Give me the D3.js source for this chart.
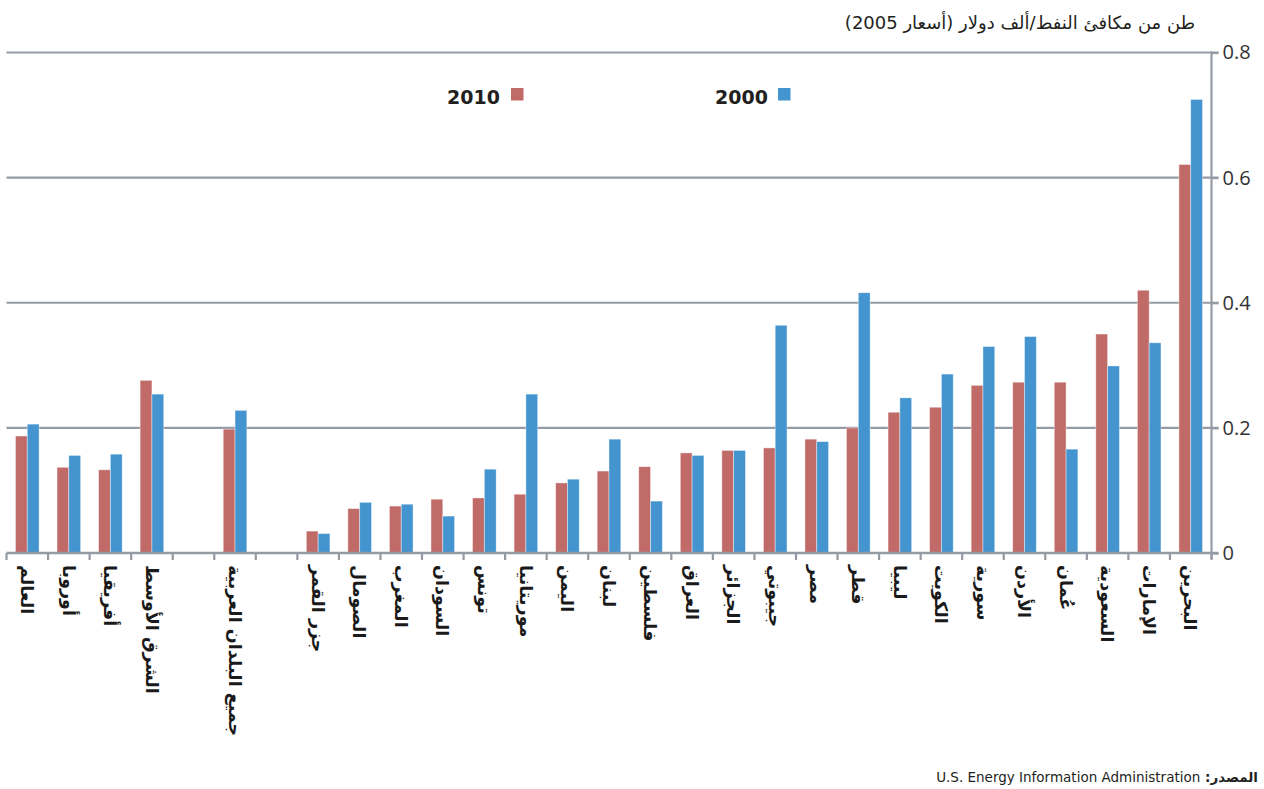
<!DOCTYPE html>
<html>
<head>
<meta charset="utf-8">
<script src="https://cdn.jsdelivr.net/npm/d3@7"></script>
<style>
  html, body { margin: 0; padding: 0; background: #fff; }
  svg { display: block; }
</style>
</head>
<body>
<svg id="chart" width="1264" height="789"></svg>
<script>
// Energy intensity by country/region (toe per thousand USD, 2005 prices)
const categories = [
  "العالم", "أوروبا", "أفريقيا", "الشرق الأوسط", "",
  "جميع البلدان العربية", "",
  "جزر القمر", "الصومال", "المغرب", "السودان", "تونس", "موريتانيا",
  "اليمن", "لبنان", "فلسطين", "العراق", "الجزائر", "جيبوتي", "مصر",
  "قطر", "ليبيا", "الكويت", "سورية", "الأردن", "عُمان", "السعودية",
  "الإمارات", "البحرين"
];
const values2010 = [
  0.187, 0.137, 0.133, 0.276, null,
  0.198, null,
  0.035, 0.071, 0.075, 0.086, 0.088, 0.094,
  0.112, 0.131, 0.138, 0.160, 0.164, 0.168, 0.182,
  0.200, 0.225, 0.233, 0.268, 0.273, 0.273, 0.350,
  0.420, 0.621
];
const values2000 = [
  0.206, 0.156, 0.158, 0.254, null,
  0.228, null,
  0.031, 0.081, 0.078, 0.059, 0.134, 0.254,
  0.118, 0.182, 0.083, 0.156, 0.164, 0.364, 0.178,
  0.416, 0.248, 0.286, 0.330, 0.346, 0.166, 0.299,
  0.336, 0.725
];
const seriesNames = ["2010", "2000"];
const seriesColors = ["#c16b69", "#4394cf"];
const yTicks = [0, 0.2, 0.4, 0.6, 0.8];
const unitLabel = "طن من مكافئ النفط/ألف دولار (أسعار 2005)";
const sourcePrefix = "المصدر:";
const sourceName = "U.S. Energy Information Administration";

const svg = d3.select("#chart");
const plot = { left: 6.5, right: 1211.5, top: 52.5, bottom: 553 };
const gridColor = "#959ba3";
const arabicFont = "'DejaVu Sans', sans-serif";

const x = d3.scaleBand().domain(d3.range(categories.length)).range([plot.left, plot.right]).padding(0);
const xs = d3.scaleBand().domain(seriesNames).range([0, x.bandwidth()]).paddingInner(0).paddingOuter(0.76);
const y = d3.scaleLinear().domain([0, 0.8]).range([plot.bottom, plot.top]);

// horizontal gridlines
svg.append("g").selectAll("line").data(yTicks.filter(d => d > 0)).join("line")
  .attr("x1", plot.left).attr("x2", plot.right + 7)
  .attr("y1", d => y(d)).attr("y2", d => y(d))
  .attr("stroke", gridColor).attr("stroke-width", 2.2);

// bars
const series = [values2010, values2000];
const groups = svg.append("g").selectAll("g").data(series).join("g")
  .attr("fill", (d, i) => seriesColors[i]);
groups.each(function(vals, si) {
  d3.select(this).selectAll("rect")
    .data(vals.map((v, i) => ({ v, i })).filter(d => d.v != null))
    .join("rect")
    .attr("x", d => x(d.i) + xs(seriesNames[si]))
    .attr("width", xs.bandwidth())
    .attr("y", d => y(d.v))
    .attr("height", d => y(0) - y(d.v))
    .attr("stroke", "#ffffff").attr("stroke-opacity", 0.5).attr("stroke-width", 0.8);
});

// right-hand value axis
const yAxis = d3.axisRight(y).tickValues(yTicks).tickSize(7).tickPadding(4)
  .tickFormat(d => d === 0 ? "0" : d3.format(".1f")(d));
const ya = svg.append("g").attr("transform", `translate(${plot.right},0)`).call(yAxis);
ya.select(".domain").attr("stroke", gridColor).attr("stroke-width", 2.2)
  .attr("d", `M0,${plot.top - 1}V${plot.bottom + 6}`);
ya.selectAll(".tick line").attr("stroke", gridColor).attr("stroke-width", 2.2);
ya.selectAll(".tick text").attr("fill", "#333").attr("font-size", 20)
  .attr("font-family", "'Open Sans', sans-serif");

// category axis with ticks between groups
const xa = svg.append("g");
xa.append("line").attr("x1", plot.left).attr("x2", plot.right + 7)
  .attr("y1", plot.bottom).attr("y2", plot.bottom)
  .attr("stroke", gridColor).attr("stroke-width", 2.5);
xa.selectAll("line.tk").data(d3.range(categories.length + 1)).join("line")
  .attr("class", "tk")
  .attr("x1", i => i < categories.length ? x(i) : plot.right)
  .attr("x2", i => i < categories.length ? x(i) : plot.right)
  .attr("y1", plot.bottom).attr("y2", plot.bottom + 7)
  .attr("stroke", gridColor).attr("stroke-width", 2.2);

// vertical category labels
xa.selectAll("text").data(categories.map((c, i) => ({ c, i })).filter(d => d.c)).join("text")
  .attr("transform", d => `translate(${x(d.i) + x.bandwidth() / 2},565) rotate(90)`)
  .attr("dy", "0.36em")
  .attr("text-anchor", "start")
  .attr("font-family", arabicFont).attr("font-weight", "bold")
  .attr("font-size", 17.5).attr("fill", "#1a1a1a")
  .text(d => d.c);

// legend
const legend = svg.append("g");
const legendPos = [[500, 511], [768, 778]];
seriesNames.forEach((s, i) => {
  legend.append("text").attr("x", legendPos[i][0]).attr("y", 104)
    .attr("text-anchor", "end").attr("font-family", "'DejaVu Sans', sans-serif")
    .attr("font-weight", "bold").attr("font-size", 19).attr("fill", "#231f20").text(s);
  legend.append("rect").attr("x", legendPos[i][1]).attr("y", 88)
    .attr("width", 12.5).attr("height", 12.5).attr("fill", seriesColors[i]);
});

// unit label
svg.append("text").attr("x", 1195).attr("y", 29)
  .attr("direction", "rtl").style("direction", "rtl")
  .attr("text-anchor", "start")
  .attr("font-family", arabicFont).attr("font-size", 18).attr("fill", "#231f20")
  .text(unitLabel);

// source note
const src = svg.append("text").attr("x", 1258).attr("y", 782)
  .attr("direction", "rtl").style("direction", "rtl")
  .attr("text-anchor", "start")
  .attr("font-family", arabicFont).attr("font-size", 13.5).attr("fill", "#231f20");
src.append("tspan").attr("font-weight", "bold").text(sourcePrefix + " ");
src.append("tspan").text(sourceName);
</script>
</body>
</html>
